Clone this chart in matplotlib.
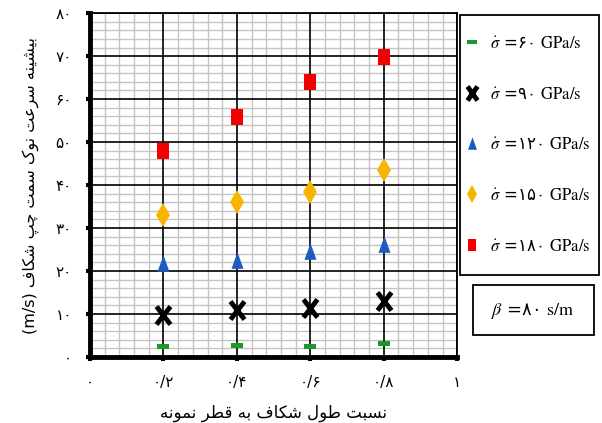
import numpy as np
import matplotlib
matplotlib.use("Agg")
import matplotlib.pyplot as plt
from matplotlib.markers import MarkerStyle
from matplotlib.transforms import Affine2D
from matplotlib.patches import Rectangle

plt.rcParams['font.family'] = ['DejaVu Sans']
plt.rcParams['mathtext.fontset'] = 'stix'

# crack length / specimen diameter
ratio = [0.2, 0.4, 0.6, 0.8]

# max left crack-tip speed (m/s) for each loading rate
v60 = [2.6, 2.9, 2.6, 3.2]
v90 = [9.8, 10.9, 11.3, 13.1]
v120 = [21.8, 22.6, 24.7, 26.4]
v150 = [33.0, 36.0, 38.3, 43.6]
v180 = [48.0, 55.9, 64.0, 69.8]

rate_labels = ['۶۰', '۹۰', '۱۲۰', '۱۵۰', '۱۸۰']
x_ticklabels = ['۰', '۰/۲', '۰/۴', '۰/۶', '۰/۸', '۱']
y_ticklabels = ['۰', '۱۰', '۲۰', '۳۰', '۴۰', '۵۰', '۶۰', '۷۰', '۸۰']

# contextual forms: isolated, final, initial, medial
FORMS = {
    'ا': ('\uFE8D', '\uFE8E', None, None),
    'ب': ('\uFE8F', '\uFE90', '\uFE91', '\uFE92'),
    'ت': ('\uFE95', '\uFE96', '\uFE97', '\uFE98'),
    'ر': ('\uFEAD', '\uFEAE', None, None),
    'س': ('\uFEB1', '\uFEB2', '\uFEB3', '\uFEB4'),
    'ش': ('\uFEB5', '\uFEB6', '\uFEB7', '\uFEB8'),
    'ط': ('\uFEC1', '\uFEC2', '\uFEC3', '\uFEC4'),
    'ع': ('\uFEC9', '\uFECA', '\uFECB', '\uFECC'),
    'ف': ('\uFED1', '\uFED2', '\uFED3', '\uFED4'),
    'ق': ('\uFED5', '\uFED6', '\uFED7', '\uFED8'),
    'ل': ('\uFEDD', '\uFEDE', '\uFEDF', '\uFEE0'),
    'م': ('\uFEE1', '\uFEE2', '\uFEE3', '\uFEE4'),
    'ن': ('\uFEE5', '\uFEE6', '\uFEE7', '\uFEE8'),
    'ه': ('\uFEE9', '\uFEEA', '\uFEEB', '\uFEEC'),
    'و': ('\uFEED', '\uFEEE', None, None),
    'ی': ('\uFBFC', '\uFBFD', '\uFBFE', '\uFBFF'),
    'ک': ('\uFB8E', '\uFB8F', '\uFB90', '\uFB91'),
    'چ': ('\uFB7A', '\uFB7B', '\uFB7C', '\uFB7D'),
    'پ': ('\uFB56', '\uFB57', '\uFB58', '\uFB59'),
}


def shape_word(word):
    out = []
    for i, ch in enumerate(word):
        iso, fin, ini, med = FORMS[ch]
        joins_prev = i > 0 and FORMS[word[i - 1]][2] is not None
        joins_next = i < len(word) - 1 and ini is not None
        if joins_prev and joins_next:
            out.append(med)
        elif joins_prev:
            out.append(fin)
        elif joins_next:
            out.append(ini)
        else:
            out.append(iso)
    return ''.join(reversed(out))


def persian(text):
    return ' '.join(shape_word(w) for w in reversed(text.split()))


fig = plt.figure(figsize=(6.02, 4.23), dpi=100)
ax = fig.add_axes([0.1495, 0.156, 0.61, 0.813])

ax.set_xlim(0, 1)
ax.set_ylim(0, 80)

ax.set_xticks(np.arange(0, 1.0001, 0.2))
ax.set_xticklabels(x_ticklabels)
ax.set_yticks(np.arange(0, 80.001, 10))
ax.set_yticklabels(y_ticklabels)

# light minor grid from the axes, black major lines drawn above it
ax.set_xticks([i * 0.04 for i in range(26) if i % 5], minor=True)
ax.set_yticks([i * 2 for i in range(41) if i % 5], minor=True)
ax.grid(which='minor', color='#c4c4c4', lw=1.0)
ax.set_axisbelow(True)
for xv in ax.get_xticks():
    ax.axvline(xv, color='black', lw=1.2, zorder=0.8)
for yv in ax.get_yticks():
    ax.axhline(yv, color='black', lw=1.2, zorder=0.8)

ax.tick_params(which='minor', length=0)
ax.tick_params(which='major', direction='out', length=3, width=3,
               labelsize=11, pad=10)

for side in ['left', 'bottom']:
    ax.spines[side].set_linewidth(3.5)
for side in ['top', 'right']:
    ax.spines[side].set_linewidth(1.3)

rect_tall = [(-0.35, -0.5), (0.35, -0.5), (0.35, 0.5), (-0.35, 0.5)]
bar_flat = [(-0.5, -0.2), (0.5, -0.2), (0.5, 0.2), (-0.5, 0.2)]
tri_tall = [(0, 0.5), (-0.36, -0.5), (0.36, -0.5)]
x_tall = MarkerStyle('x', transform=Affine2D().scale(1, 1.3))

series = [
    ax.plot(ratio, v60, ls='none', marker=bar_flat, ms=9,
            color='#1a9a2a', mew=0)[0],
    ax.plot(ratio, v90, ls='none', marker=x_tall, ms=10.5,
            color='black', mew=3.5)[0],
    ax.plot(ratio, v120, ls='none', marker=tri_tall, ms=12,
            color='#1f5bbf', mew=0)[0],
    ax.plot(ratio, v150, ls='none', marker='d', ms=12,
            color='#f7b500', mew=0)[0],
    ax.plot(ratio, v180, ls='none', marker=rect_tall, ms=12,
            color='#f20000', mew=0)[0],
]

# legend frame and beta frame
fig.patches.append(Rectangle((460 / 602, 1 - 275 / 423), 139 / 602, 260 / 423,
                             transform=fig.transFigure, fill=False,
                             edgecolor='black', lw=1.3))
fig.patches.append(Rectangle((473 / 602, 1 - 335 / 423), 121 / 602, 50 / 423,
                             transform=fig.transFigure, fill=False,
                             edgecolor='black', lw=1.3))

labels = [r'$\dot{\sigma}$ =' + r + r' $\mathrm{GPa/s}$' for r in rate_labels]
leg = ax.legend(series, labels, loc='upper left',
                bbox_to_anchor=(465 / 602, 1 - 34 / 423),
                bbox_transform=fig.transFigure,
                fontsize=12, frameon=False, markerscale=0.75,
                handlelength=0.8, handletextpad=0.7, labelspacing=1.96,
                borderpad=0, borderaxespad=0)

fig.text(533 / 602, 1 - 311 / 423, r'$\beta$ =۸۰ $\mathrm{s/m}$', fontsize=13,
         ha='center', va='center')

ax.set_xlabel(persian('نسبت طول شکاف به قطر نمونه'), fontsize=12,
              labelpad=10)
ax.set_ylabel('(m/s) ' + persian('بیشینه سرعت نوک سمت چپ شکاف'),
              fontsize=11.5, labelpad=12)

fig.savefig('out.png', dpi=100)
